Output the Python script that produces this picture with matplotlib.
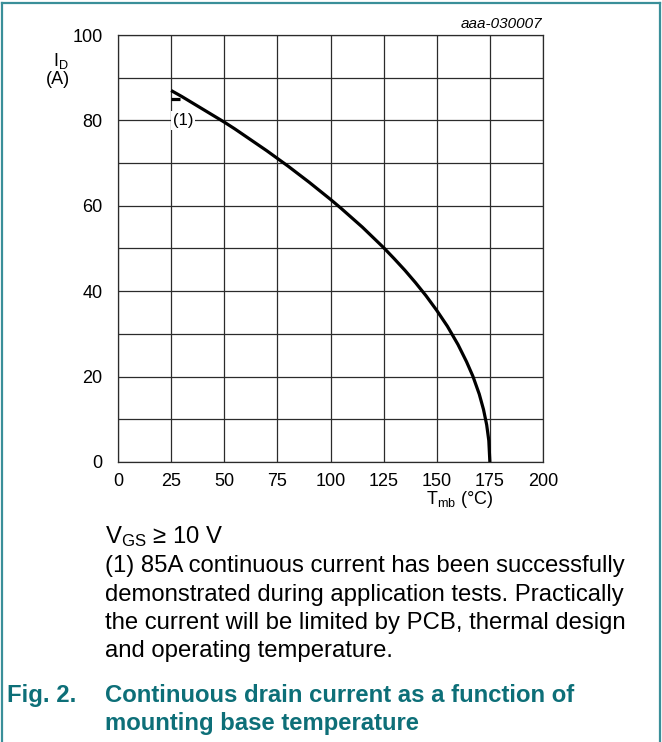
import matplotlib
matplotlib.use("Agg")
import matplotlib.pyplot as plt
from matplotlib.lines import Line2D

plt.rcParams['font.family'] = ['Liberation Sans', 'DejaVu Sans']
plt.rcParams['mathtext.default'] = 'regular'

# datos
temp_mb = [25, 30, 35, 40, 45, 50, 55, 60, 65, 70, 75, 80, 85, 90, 95, 100, 105, 110, 115, 120,
           125, 130, 135, 140, 145, 150, 155, 160, 164, 167, 170, 172, 173.5, 174.5, 175]
i_d = [87.0, 85.6, 84.1, 82.6, 81.1, 79.6, 78.0, 76.3, 74.6, 72.9, 71.1, 69.3, 67.4, 65.5, 63.5,
       61.5, 59.4, 57.2, 55.0, 52.6, 50.2, 47.6, 44.9, 42.0, 38.9, 35.5, 31.8, 27.5, 23.5, 20.1,
       15.9, 12.3, 8.7, 5.0, 0]
x_ticks = [0, 25, 50, 75, 100, 125, 150, 175, 200]
y_ticks = [0, 20, 40, 60, 80, 100]
note_lines = [
    "(1) 85A continuous current has been successfully",
    "demonstrated during application tests. Practically",
    "the current will be limited by PCB, thermal design",
    "and operating temperature.",
]
caption_lines = ["Continuous drain current as a function of", "mounting base temperature"]

W, H = 662, 742
fig = plt.figure(figsize=(W / 100, H / 100), dpi=100)

def fx(px):
    return px / W

def fy(py):
    return 1 - py / H

# ejes: pixeles 118..543 x 35..462
ax = fig.add_axes([fx(118), fy(462), fx(543) - fx(118), fy(35) - fy(462)])
grid_c = '#2b2b2b'
ax.set_xlim(0, 200)
ax.set_ylim(0, 100)
ax.set_xticks(x_ticks)
ax.set_yticks(y_ticks)
ax.set_xticks(range(0, 201, 25), minor=True)
ax.set_yticks(range(0, 101, 10), minor=True)
ax.grid(True, which='both', color=grid_c, lw=0.9)
ax.tick_params(which='both', length=0)
ax.tick_params(axis='y', pad=11, labelsize=13)
ax.tick_params(axis='x', pad=8, labelsize=13)
for s in ax.spines.values():
    s.set_color(grid_c)
    s.set_linewidth(0.9)

ax.plot(temp_mb, i_d, color='black', lw=2.3, solid_capstyle='butt', zorder=3)
ax.plot([25, 29], [85, 85], color='black', lw=2.3, solid_capstyle='butt', zorder=3)
ax.text(30.5, 80, "(1)", fontsize=12, ha='center', va='center', zorder=4,
        bbox=dict(facecolor='white', edgecolor='none', pad=1.5))

# etiquetas de ejes
fig.text(fx(61), fy(61), "I$_D$", fontsize=13, ha='center', va='center')
fig.text(fx(58), fy(80), "(A)", fontsize=13, ha='center', va='center')
fig.text(fx(460), fy(500), "T$_{mb}$ (°C)", fontsize=13, ha='center', va='center')
fig.text(fx(542), fy(24), "aaa-030007", fontsize=11, style='italic', ha='right', va='center')

# notas
tx = 105
fig.text(fx(tx), fy(543), "V$_{GS}$ ≥ 10 V", fontsize=17.2, ha='left', va='baseline')
for k, line in enumerate(note_lines):
    fig.text(fx(tx), fy(572 + k * 28.5), line, fontsize=17.2, ha='left', va='baseline')

teal = '#0d6f78'
fig.text(fx(7), fy(702), "Fig. 2.", fontsize=17.2, weight='bold', color=teal, ha='left', va='baseline')
for k, line in enumerate(caption_lines):
    fig.text(fx(tx), fy(702 + k * 28), line, fontsize=17.2, weight='bold', color=teal,
             ha='left', va='baseline')

# marco
border = '#3a8f99'
fig.add_artist(Line2D([fx(1.5), fx(1.5)], [fy(3), 0], color=border, lw=1.6))
fig.add_artist(Line2D([fx(1.5), fx(659.5)], [fy(3), fy(3)], color=border, lw=1.6))
fig.add_artist(Line2D([fx(659.5), fx(659.5)], [fy(3), 0], color=border, lw=1.6))

fig.savefig("out.png", dpi=100)
